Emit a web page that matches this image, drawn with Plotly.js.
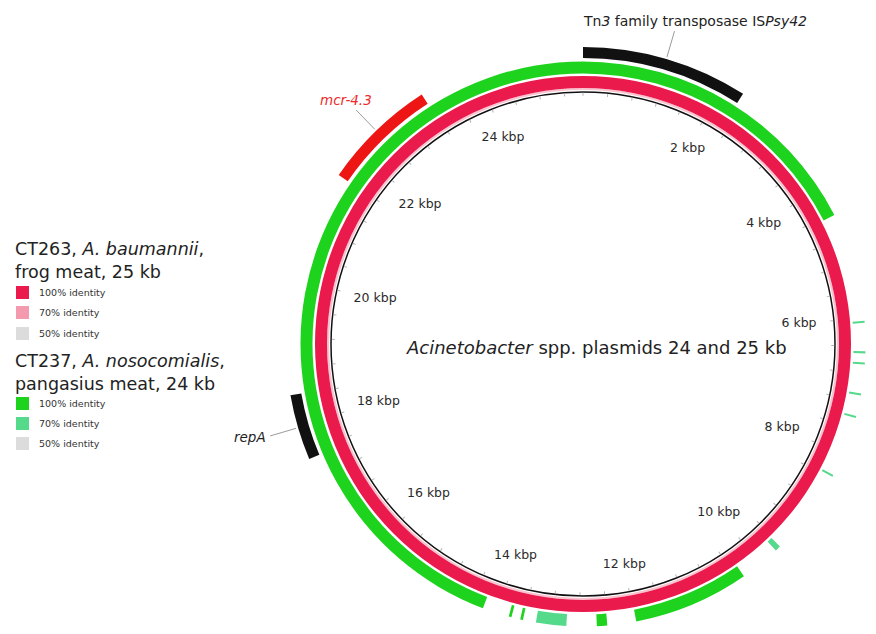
<!DOCTYPE html>
<html><head><meta charset="utf-8">
<script src="https://cdn.plot.ly/plotly-3.0.1.min.js"></script>
<style>html,body{margin:0;padding:0;background:#fff;} #chart{width:876px;height:634px;}</style>
</head><body><div id="chart"></div>
<script>
// ---------------- DATA ----------------
const plasmidLengthKb = 25.5;

// CT263 (reference plasmid) : full self-identity ring
const ct263Start = [0];
const ct263End = [25.5];
const ct263Identity = [100];

// CT237 BLAST hits against the CT263 reference (kb)
const ct237Start = [14.22, 0.00, 13.62, 13.79, 12.99, 12.40, 10.29, 9.62, 6.04, 6.48, 6.64, 7.09, 7.42, 8.33];
const ct237End   = [25.50, 4.45, 13.66, 13.83, 13.43, 12.55, 11.98, 9.70, 6.07, 6.51, 6.67, 7.12, 7.45, 8.36];
const ct237Identity = [100, 100, 100, 100, 70, 100, 100, 70, 70, 70, 70, 70, 70, 70];

// annotated genes
const geneNames = ['Tn<i>3</i> family transposase IS<i>Psy42</i>', '<i>mcr-4.3</i>', '<i>repA</i>'];
const geneStart = [0.00, 21.58, 17.51];
const geneEnd   = [2.31, 23.17, 18.42];

// backbone tick labels
const tickLabelKb = [2, 4, 6, 8, 10, 12, 14, 16, 18, 20, 22, 24];
const tickLabelText = ['2 kbp', '4 kbp', '6 kbp', '8 kbp', '10 kbp', '12 kbp', '14 kbp', '16 kbp', '18 kbp', '20 kbp', '22 kbp', '24 kbp'];

// legend
const identityLevels = [100, 70, 50];
const identityLabels = ['100% identity', '70% identity', '50% identity'];
const genomeTitles = ['CT263, <i>A. baumannii</i>,<br>frog meat, 25 kb', 'CT237, <i>A. nosocomialis</i>,<br>pangasius meat, 24 kb'];
const centerTitle = '<i>Acinetobacter</i> spp. plasmids 24 and 25 kb';

// ---------------- STYLE ----------------
const W = 876, H = 634, CX = 583, CY = 344;
const ct263Colors = {100: '#EA1A4C', 70: '#F49AAE', 50: '#DCDCDC'};
const ct237Colors = {100: '#1ED31E', 70: '#55D98A', 50: '#DCDCDC'};
const geneColors = ['#111111', '#EE1515', '#111111'];
const labelColors = ['#222222', '#EE2A2A', '#222222'];
const FONT = 'DejaVu Sans, Verdana, sans-serif';

const deg = kb => kb * 360 / plasmidLengthKb;
const px = x => x / W;
const py = y => 1 - y / H;

function arcTrace(starts, ends, base, thick, colors, subplot) {
  return {
    type: 'barpolar', subplot: subplot,
    theta: starts.map((s, i) => deg((s + ends[i]) / 2)),
    width: starts.map((s, i) => deg(ends[i] - s)),
    base: starts.map(() => base),
    r: starts.map(() => thick),
    marker: {color: colors, line: {width: 0}},
    hoverinfo: 'skip'
  };
}

const traces = [];
// CT263 ring (inner pale edge + main ring)
traces.push(arcTrace(ct263Start, ct263End, 253.8, 2.2, ct263Identity.map(() => '#F8C2CE'), 'polar'));
traces.push(arcTrace(ct263Start, ct263End, 256, 12, ct263Identity.map(v => ct263Colors[v]), 'polar'));
// CT237 ring
traces.push(arcTrace(ct237Start, ct237End, 270.5, 12, ct237Identity.map(v => ct237Colors[v]), 'polar'));
// genes
traces.push(arcTrace(geneStart, geneEnd, 286, 11, geneColors, 'polar3'));
// leader lines
const leadR = [], leadT = [];
geneStart.forEach((s, i) => {
  const m = deg((s + geneEnd[i]) / 2);
  leadR.push(299, 326, null); leadT.push(m, m, null);
});
traces.push({type: 'scatterpolar', subplot: 'polar3', mode: 'lines', r: leadR, theta: leadT,
  line: {color: '#9a9a9a', width: 1}, hoverinfo: 'skip', connectgaps: false});

// tick labels inside backbone
const labR = tickLabelKb.map((k, i) => {
  const t = deg(k) * Math.PI / 180;
  const halfW = tickLabelText[i].length * 3.7, halfH = 7;
  return 236 - (Math.abs(Math.sin(t)) * halfW + Math.abs(Math.cos(t)) * halfH);
});
traces.push({type: 'scatterpolar', subplot: 'polar2', mode: 'text',
  r: labR, theta: tickLabelKb.map(deg), text: tickLabelText,
  textposition: 'middle center', textfont: {family: FONT, size: 12.5, color: '#2a2a2a'},
  hoverinfo: 'skip', cliponaxis: false});

// minor ticks on backbone every 0.4 kb
const tickVals = [];
for (let k = 0; k < plasmidLengthKb - 0.01; k += 0.4) tickVals.push(deg(k));

// polar3 domain: sector [50,210], radius 330
const R3 = 330, c50 = Math.cos(50 * Math.PI / 180);
const dom3 = {x: [px(CX - R3), px(CX + c50 * R3)], y: [py(CY + 0.5 * R3), py(CY - R3)]};
const R1 = H - CY, R2 = 252;

const shapes = [], annotations = [];
// legend
const legendBlocks = [{titleY: 260, sqY: [286, 306, 327], colors: ct263Colors},
                      {titleY: 372, sqY: [397, 417, 437], colors: ct237Colors}];
legendBlocks.forEach((b, g) => {
  annotations.push({xref: 'paper', yref: 'paper', x: px(13), y: py(b.titleY), xanchor: 'left', yanchor: 'middle',
    text: genomeTitles[g], showarrow: false, align: 'left', font: {family: FONT, size: 17.5, color: '#222'}});
  identityLevels.forEach((lev, i) => {
    shapes.push({type: 'rect', xref: 'paper', yref: 'paper', x0: px(16), x1: px(29), y0: py(b.sqY[i] + 13), y1: py(b.sqY[i]),
      fillcolor: b.colors[lev], line: {width: 0}});
    annotations.push({xref: 'paper', yref: 'paper', x: px(37), y: py(b.sqY[i] + 6.5), xanchor: 'left', yanchor: 'middle',
      text: identityLabels[i], showarrow: false, font: {family: FONT, size: 9.5, color: '#333'}});
  });
});
// gene labels
const geneLabelPos = [[695, 21], [346, 100], [250, 437]];
const geneLabelSize = [14, 13.5, 13.5];
geneNames.forEach((n, i) => {
  annotations.push({xref: 'paper', yref: 'paper', x: px(geneLabelPos[i][0]), y: py(geneLabelPos[i][1]),
    xanchor: 'center', yanchor: 'middle', text: n, showarrow: false,
    font: {family: FONT, size: geneLabelSize[i], color: labelColors[i]}});
});
// centre title
annotations.push({xref: 'paper', yref: 'paper', x: px(596), y: py(347), xanchor: 'center', yanchor: 'middle',
  text: centerTitle, showarrow: false, font: {family: FONT, size: 18, color: '#222'}});

const layout = {
  width: W, height: H, margin: {l: 0, r: 0, t: 0, b: 0},
  paper_bgcolor: '#fff', showlegend: false,
  polar: {domain: {x: [px(CX - R1), px(CX + R1)], y: [0, py(CY - R1)]}, bgcolor: 'rgba(0,0,0,0)',
    radialaxis: {range: [0, R1], visible: false},
    angularaxis: {rotation: 90, direction: 'clockwise', visible: false}},
  polar2: {domain: {x: [px(CX - R2), px(CX + R2)], y: [py(CY + R2), py(CY - R2)]}, bgcolor: 'rgba(0,0,0,0)',
    radialaxis: {range: [0, R2], visible: false},
    angularaxis: {rotation: 90, direction: 'clockwise', showline: true, linecolor: '#111', linewidth: 1.5,
      ticks: 'inside', ticklen: 3, tickwidth: 1, tickcolor: '#b5b5b5', tickmode: 'array', tickvals: tickVals,
      showticklabels: false, showgrid: false}},
  polar3: {domain: dom3, sector: [50, 210], bgcolor: 'rgba(0,0,0,0)',
    radialaxis: {range: [0, R3], visible: false},
    angularaxis: {rotation: 90, direction: 'clockwise', visible: false}},
  shapes: shapes, annotations: annotations
};
Plotly.newPlot('chart', traces, layout, {staticPlot: true, displayModeBar: false});
</script></body></html>
